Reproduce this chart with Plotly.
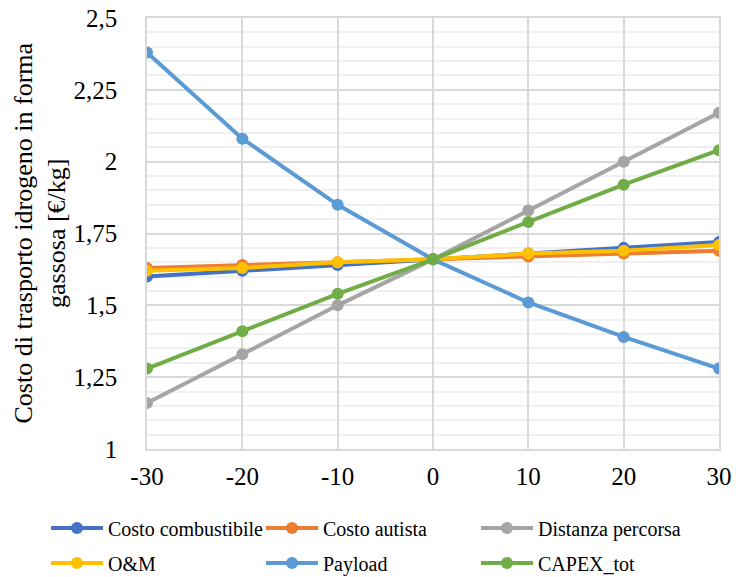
import plotly.graph_objects as go

# Sensitivity of gaseous hydrogen transport cost to each parameter (% variation)
variazione = [-30, -20, -10, 0, 10, 20, 30]
x_tick_text = ["-30", "-20", "-10", "0", "10", "20", "30"]

costo_combustibile = [1.60, 1.62, 1.64, 1.66, 1.68, 1.70, 1.72]
costo_autista = [1.63, 1.64, 1.65, 1.66, 1.67, 1.68, 1.69]
distanza_percorsa = [1.16, 1.33, 1.50, 1.66, 1.83, 2.00, 2.17]
o_m = [1.62, 1.63, 1.65, 1.66, 1.68, 1.69, 1.71]
payload = [2.38, 2.08, 1.85, 1.66, 1.51, 1.39, 1.28]
capex_tot = [1.28, 1.41, 1.54, 1.66, 1.79, 1.92, 2.04]

y_tick_vals = [1, 1.25, 1.5, 1.75, 2, 2.25, 2.5]
y_tick_text = ["1", "1,25", "1,5", "1,75", "2", "2,25", "2,5"]

series = [
    ("Costo combustibile", costo_combustibile, "#4472C4"),
    ("Costo autista", costo_autista, "#ED7D31"),
    ("Distanza percorsa", distanza_percorsa, "#A5A5A5"),
    ("O&M", o_m, "#FFC000"),
    ("Payload", payload, "#5B9BD5"),
    ("CAPEX_tot", capex_tot, "#70AD47"),
]

FONT = "Liberation Serif, Times New Roman, serif"
W, H = 736, 577

# legend grid: 3 columns x 2 rows below the plot (pixel positions in the page)
legend_cols_px = [46, 261, 476]
legend_rows_px = [528, 563]

fig = go.Figure()
legends = {}
for i, (name, vals, color) in enumerate(series):
    key = "legend" if i == 0 else f"legend{i + 1}"
    fig.add_trace(go.Scatter(
        x=variazione, y=vals, name=name, mode="lines+markers",
        line=dict(color=color, width=4),
        marker=dict(color=color, size=12),
        legend=key,
    ))
    legends[key] = dict(
        orientation="h",
        xref="container", yref="container",
        x=legend_cols_px[i % 3] / W,
        y=1 - legend_rows_px[i // 3] / H,
        xanchor="left", yanchor="middle",
        font=dict(family=FONT, size=20, color="#000000"),
        itemwidth=52,
        bgcolor="rgba(0,0,0,0)",
    )

fig.update_layout(
    width=W, height=H,
    margin=dict(l=147, r=17, t=18, b=128, autoexpand=False),
    paper_bgcolor="white", plot_bgcolor="white",
    font=dict(family=FONT, color="#000000"),
    showlegend=True,
    **legends,
    xaxis=dict(
        range=[-30, 30],
        tickvals=variazione, ticktext=x_tick_text,
        tickfont=dict(family=FONT, size=25, color="#000000"),
        showgrid=True, gridcolor="#D9D9D9", gridwidth=1.5,
        zeroline=False,
        showline=True, linecolor="#D9D9D9", linewidth=1.5, mirror=True,
        ticks="outside", ticklen=4, tickcolor="rgba(0,0,0,0)",
    ),
    yaxis=dict(
        range=[1, 2.5],
        tickvals=y_tick_vals, ticktext=y_tick_text,
        tickfont=dict(family=FONT, size=25, color="#000000"),
        showgrid=True, gridcolor="#D9D9D9", gridwidth=1.5,
        minor=dict(dtick=0.05, showgrid=True, gridcolor="#F0F0F0", gridwidth=1.5),
        zeroline=False,
        showline=True, linecolor="#D9D9D9", linewidth=1.5, mirror=True,
        ticks="outside", ticklen=23, tickcolor="rgba(0,0,0,0)",
    ),
    annotations=[dict(
        text="Costo di trasporto idrogeno in forma<br>gassosa [€/kg]",
        xref="paper", yref="paper",
        x=(40 - 147) / 572, y=0.5,
        xanchor="center", yanchor="middle",
        textangle=-90, showarrow=False,
        font=dict(family=FONT, size=26, color="#000000"),
    )],
)

fig.write_html("out.html")
